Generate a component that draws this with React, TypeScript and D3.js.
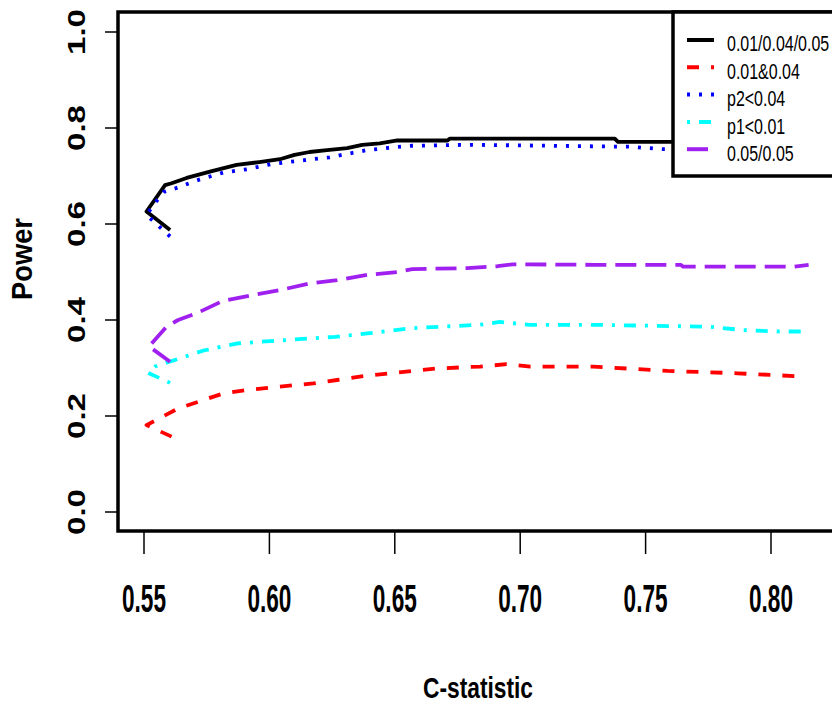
import React from 'react';
import * as d3 from 'd3';

// C-statistic vs power, one pair of arrays per curve
const blackC = [0.5604, 0.551, 0.5584, 0.561, 0.567, 0.5763, 0.5869, 0.596, 0.6042, 0.61, 0.616, 0.623, 0.631, 0.637, 0.644, 0.651, 0.671, 0.672, 0.7377, 0.739, 0.815];
const blackP = [0.5875, 0.626, 0.681, 0.685, 0.696, 0.709, 0.723, 0.729, 0.735, 0.744, 0.75, 0.754, 0.758, 0.765, 0.768, 0.774, 0.774, 0.778, 0.778, 0.771, 0.771];

const redC = [0.561, 0.551, 0.5637, 0.573, 0.5816, 0.591, 0.6015, 0.6175, 0.627, 0.6374, 0.648, 0.657, 0.6667, 0.684, 0.6946, 0.704, 0.7289, 0.7588, 0.7866, 0.8135];
const redP = [0.157, 0.181, 0.216, 0.232, 0.247, 0.254, 0.26, 0.268, 0.275, 0.283, 0.289, 0.294, 0.299, 0.303, 0.308, 0.303, 0.303, 0.294, 0.289, 0.282];

const blueC = [0.5604, 0.551, 0.5544, 0.558, 0.5624, 0.567, 0.5723, 0.5816, 0.591, 0.6009, 0.614, 0.624, 0.639, 0.648, 0.657, 0.68, 0.7436, 0.757, 0.815];
const blueP = [0.574, 0.619, 0.644, 0.667, 0.674, 0.683, 0.693, 0.707, 0.714, 0.725, 0.733, 0.739, 0.754, 0.759, 0.763, 0.765, 0.761, 0.756, 0.755];

const cyanC = [0.5604, 0.5516, 0.5544, 0.5623, 0.5735, 0.5869, 0.6002, 0.6261, 0.639, 0.657, 0.6839, 0.6918, 0.7038, 0.7289, 0.7755, 0.7888, 0.8034, 0.812];
const cyanP = [0.269, 0.29, 0.303, 0.3167, 0.336, 0.351, 0.356, 0.365, 0.372, 0.383, 0.39, 0.396, 0.39, 0.39, 0.386, 0.379, 0.376, 0.376];

const purpleC = [0.5604, 0.552, 0.559, 0.5636, 0.571, 0.5815, 0.5935, 0.604, 0.616, 0.627, 0.639, 0.651, 0.657, 0.679, 0.691, 0.697, 0.729, 0.764, 0.765, 0.809, 0.815];
const purpleP = [0.313, 0.345, 0.386, 0.4, 0.414, 0.44, 0.452, 0.462, 0.476, 0.483, 0.494, 0.5, 0.506, 0.508, 0.512, 0.516, 0.515, 0.515, 0.511, 0.511, 0.515];

const xTicks = [0.55, 0.6, 0.65, 0.7, 0.75, 0.8];
const yTicks = [0, 0.2, 0.4, 0.6, 0.8, 1.0];

const series = [
  { label: '0.01/0.04/0.05', c: blackC, p: blackP, color: '#000000', dash: '' },
  { label: '0.01&0.04', c: redC, p: redP, color: '#ff0000', dash: '12,12' },
  { label: 'p2<0.04', c: blueC, p: blueP, color: '#0000ff', dash: '3,9' },
  { label: 'p1<0.01', c: cyanC, p: cyanP, color: '#00ffff', dash: '3,9,12,9' },
  { label: '0.05/0.05', c: purpleC, p: purpleP, color: '#a020f0', dash: '21,9' },
];

const font = '"Liberation Sans", Arial, Helvetica, sans-serif';

export default function App() {
  const width = 832;
  const height = 707;
  const box = { left: 118, top: 12, right: 860, bottom: 531 };

  const x = d3.scaleLinear().domain([0.55, 0.8]).range([144, 771]);
  const y = d3.scaleLinear().domain([0, 1]).range([512, 32]);

  const line = d3.line<number>()
    .x(d => d[0])
    .y(d => d[1]);

  const legend = { x: 673, y: 12, w: 190, h: 164 };

  return (
    <svg width={width} height={height} style={{ position: 'absolute', left: 0, top: 0, background: '#fff' }}>
      <rect x={0} y={0} width={width} height={height} fill="#fff" />

      {/* curves */}
      {series.map(s => {
        const pts = s.c.map((c, i) => [x(c), y(s.p[i])]);
        return (
          <path key={s.label} d={line(pts as any) || ''} fill="none" stroke={s.color}
            strokeWidth={3.8} strokeDasharray={s.dash || undefined} strokeLinejoin="round" />
        );
      })}

      {/* frame */}
      <rect x={box.left} y={box.top} width={box.right - box.left} height={box.bottom - box.top}
        fill="none" stroke="#000" strokeWidth={3.5} />

      {/* y axis */}
      {yTicks.map(t => (
        <g key={'y' + t}>
          <line x1={105} x2={box.left} y1={y(t)} y2={y(t)} stroke="#000" strokeWidth={1.5} />
          <text transform={`translate(85,${y(t)}) rotate(-90)`} textAnchor="middle"
            fontFamily={font} fontWeight="bold" fontSize={24} textLength={46} lengthAdjust="spacingAndGlyphs">
            {t.toFixed(1)}
          </text>
        </g>
      ))}

      {/* x axis */}
      {xTicks.map(t => (
        <g key={'x' + t}>
          <line x1={x(t)} x2={x(t)} y1={box.bottom} y2={554} stroke="#000" strokeWidth={1.5} />
          <text x={x(t)} y={612} textAnchor="middle" fontFamily={font} fontWeight="bold"
            fontSize={38} textLength={44} lengthAdjust="spacingAndGlyphs">
            {t.toFixed(2)}
          </text>
        </g>
      ))}

      {/* axis titles */}
      <text x={478} y={698} textAnchor="middle" fontFamily={font} fontWeight="bold"
        fontSize={30} textLength={110} lengthAdjust="spacingAndGlyphs">C-statistic</text>
      <text transform="translate(32,259) rotate(-90)" textAnchor="middle" fontFamily={font}
        fontWeight="bold" fontSize={29} textLength={82} lengthAdjust="spacingAndGlyphs">Power</text>

      {/* legend */}
      <rect x={legend.x} y={legend.y} width={legend.w} height={legend.h} fill="#fff" stroke="#000" strokeWidth={3.5} />
      {series.map((s, i) => (
        <g key={'lg' + s.label}>
          <line x1={687} x2={714} y1={40 + i * 27.3} y2={40 + i * 27.3} stroke={s.color}
            strokeWidth={4} strokeDasharray={s.dash || undefined} />
          <text transform={`translate(727,${51 + i * 27.5}) scale(1,1.36)`} fontFamily={font}
            fontSize={16} fill="#000">{s.label}</text>
        </g>
      ))}
    </svg>
  );
}
